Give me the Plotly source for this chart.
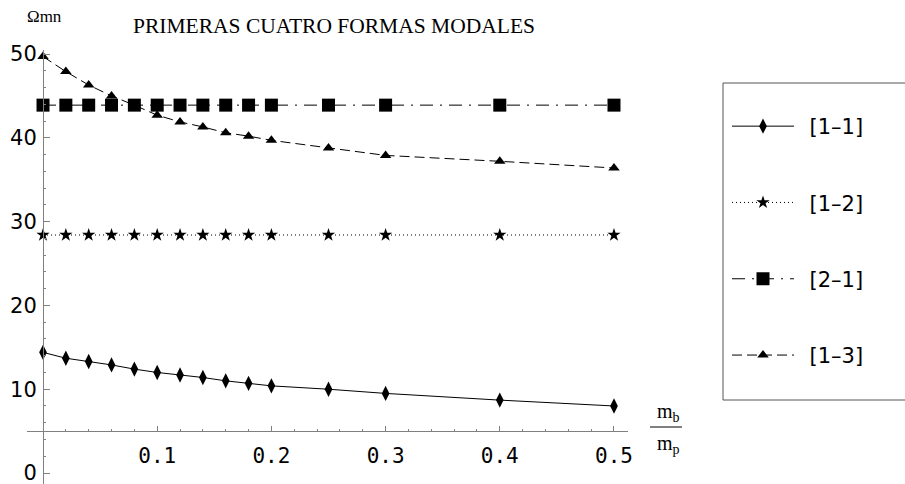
import plotly.graph_objects as go

# ---- data ----
x_vals = [0, 0.02, 0.04, 0.06, 0.08, 0.10, 0.12, 0.14, 0.16, 0.18, 0.20, 0.25, 0.30, 0.40, 0.50]
w11 = [14.4, 13.7, 13.3, 12.9, 12.4, 12.0, 11.7, 11.4, 11.0, 10.7, 10.4, 10.0, 9.5, 8.7, 8.0]
w12 = [28.4] * 15
w21 = [43.9] * 15
w13 = [49.7, 47.9, 46.3, 45.0, 43.9, 42.7, 41.9, 41.3, 40.6, 40.2, 39.7, 38.8, 37.9, 37.2, 36.4]

names = ["[1–1]", "[1–2]", "[2–1]", "[1–3]"]
x_ticks = [0.1, 0.2, 0.3, 0.4, 0.5]
x_tick_text = ["0.1", "0.2", "0.3", "0.4", "0.5"]
y_ticks = [0, 10, 20, 30, 40, 50]
y_tick_text = ["0", "10", "20", "30", "40", "50"]
title_text = "PRIMERAS CUATRO FORMAS MODALES"
ylabel_text = "Ωmn"

W, H = 905, 484
ML, MR, MT, MB = 27, 277, 50, 0
x_range = [-0.01402, 0.51227]
y_range = [-1.31, 50.48]

fig = go.Figure()
styles = [
    dict(dash="solid", symbol="diamond-tall", size=11),
    dict(dash="1px,3px", symbol="star", size=10),
    dict(dash="13px,7px,2px,7px", symbol="square", size=13),
    dict(dash="10px,5px", symbol="triangle-up", size=10),
]
for i, (ys, nm) in enumerate(zip([w11, w12, w21, w13], names)):
    st = styles[i]
    fig.add_trace(go.Scatter(
        x=x_vals, y=ys, name="\u2002" + nm, mode="lines+markers",
        line=dict(color="black", width=1, dash=st["dash"]),
        marker=dict(symbol=st["symbol"], size=st["size"], color="black"),
        legendgroup=nm, cliponaxis=False,
    ))

x_pos = (0 - x_range[0]) / (x_range[1] - x_range[0])
y_pos = (5 - y_range[0]) / (y_range[1] - y_range[0])

axis_col = "#808080"
pw = W - ML - MR
ph = H - MT - MB
def px(xp):
    return (xp - ML) / pw
def py(yp):
    return (H - MB - yp) / ph

fig.update_layout(
    width=W, height=H,
    margin=dict(l=ML, r=MR, t=MT, b=MB),
    paper_bgcolor="white", plot_bgcolor="white",
    showlegend=True,
    xaxis=dict(
        range=x_range, anchor="free", position=y_pos,
        showgrid=False, zeroline=False, showline=True, linecolor=axis_col, linewidth=1,
        tickmode="array", tickvals=x_ticks, ticktext=x_tick_text,
        ticks="inside", ticklen=5, tickcolor=axis_col,
        tickfont=dict(family="DejaVu Sans Mono", size=21, color="black"),
        ticklabelstandoff=6, ticklabeloverflow="allow",
        minor=dict(dtick=0.02, tick0=0, ticks="inside", ticklen=2, tickcolor=axis_col, showgrid=False),
    ),
    yaxis=dict(
        range=y_range, anchor="free", position=x_pos,
        showgrid=False, zeroline=False, showline=True, linecolor=axis_col, linewidth=1,
        tickmode="array", tickvals=y_ticks, ticktext=y_tick_text,
        ticks="inside", ticklen=6, tickcolor=axis_col,
        tickfont=dict(family="DejaVu Sans", size=21, color="black"),
        ticklabelstandoff=2, ticklabeloverflow="allow",
        minor=dict(dtick=2, tick0=0, ticks="inside", ticklen=2, tickcolor=axis_col, showgrid=False),
    ),
    legend=dict(
        x=px(727), xanchor="left",
        y=py(106), yanchor="top",
        bgcolor="rgba(0,0,0,0)", borderwidth=0,
        font=dict(family="DejaVu Sans", size=21, color="black"),
        itemwidth=62, tracegroupgap=46,
    ),
)

# legend box
fig.add_shape(type="rect", xref="paper", yref="paper",
              x0=px(723), x1=px(912), y0=py(400), y1=py(83),
              line=dict(color="#555", width=1))

# title and axis labels
fig.add_annotation(text=title_text, xref="paper", yref="paper", x=px(334), y=py(26),
                   xanchor="center", yanchor="middle", showarrow=False,
                   font=dict(family="Liberation Serif", size=21.5, color="black"))
fig.add_annotation(text=ylabel_text, xref="paper", yref="paper", x=px(44), y=py(17),
                   xanchor="center", yanchor="middle", showarrow=False,
                   font=dict(family="Liberation Serif", size=17, color="black"))
fig.add_annotation(text="m<sub>b</sub>", xref="paper", yref="paper", x=px(668), y=py(412),
                   xanchor="center", yanchor="middle", showarrow=False,
                   font=dict(family="Liberation Serif", size=20, color="black"))
fig.add_annotation(text="m<sub>p</sub>", xref="paper", yref="paper", x=px(668), y=py(444),
                   xanchor="center", yanchor="middle", showarrow=False,
                   font=dict(family="Liberation Serif", size=20, color="black"))
fig.add_shape(type="line", xref="paper", yref="paper", x0=px(650), x1=px(682), y0=py(427), y1=py(427),
              line=dict(color="black", width=1))

fig.write_html("out.html", config={"displayModeBar": False},
               post_script="document.body.style.margin='0px';")
